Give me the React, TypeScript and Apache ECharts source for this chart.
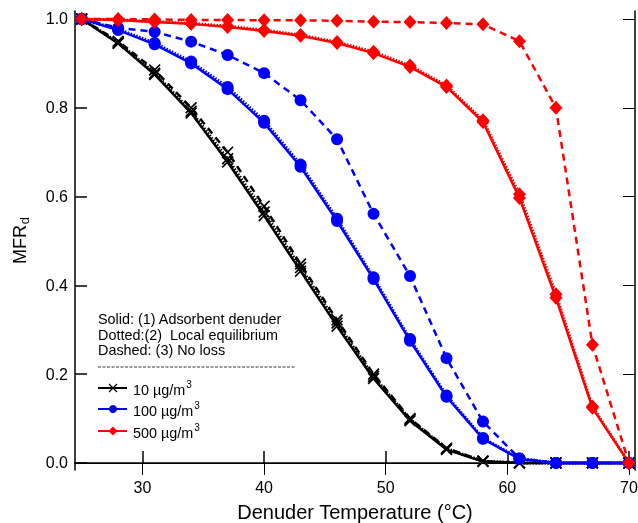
import React, { useEffect, useRef } from "react";
import * as echarts from "echarts";

const temps = [25, 28, 31, 34, 37, 40, 43, 46, 49, 52, 55, 58, 61, 64, 67, 70];

const black10Solid = [1, 0.945, 0.875, 0.788, 0.678, 0.557, 0.432, 0.308, 0.19, 0.095, 0.03, 0.003, 0, 0, 0, 0];
const black10Dotted = [1, 0.947, 0.878, 0.792, 0.685, 0.565, 0.44, 0.315, 0.195, 0.098, 0.032, 0.004, 0, 0, 0, 0];
const black10Dashed = [1, 0.95, 0.885, 0.8, 0.7, 0.578, 0.448, 0.322, 0.2, 0.1, 0.033, 0.004, 0, 0, 0, 0];

const blue100Solid = [1, 0.975, 0.943, 0.9, 0.842, 0.766, 0.667, 0.545, 0.414, 0.275, 0.149, 0.054, 0.009, 0, 0, 0];
const blue100Dotted = [1, 0.977, 0.946, 0.904, 0.847, 0.771, 0.672, 0.55, 0.418, 0.279, 0.152, 0.056, 0.01, 0, 0, 0];
const blue100Dashed = [1, 0.98, 0.971, 0.949, 0.919, 0.878, 0.817, 0.729, 0.561, 0.421, 0.236, 0.093, 0.01, 0, 0, 0];

const red500Solid = [1, 0.998, 0.993, 0.989, 0.982, 0.973, 0.962, 0.946, 0.923, 0.892, 0.847, 0.768, 0.597, 0.372, 0.124, 0];
const red500Dotted = [1, 0.998, 0.994, 0.99, 0.984, 0.975, 0.964, 0.948, 0.926, 0.895, 0.85, 0.772, 0.605, 0.38, 0.127, 0];
const red500Dashed = [1, 1, 0.999, 0.998, 0.998, 0.997, 0.997, 0.996, 0.994, 0.993, 0.991, 0.988, 0.95, 0.8, 0.266, 0];

const xTicks = [30, 40, 50, 60, 70];
const yTicks = [0, 0.2, 0.4, 0.6, 0.8, 1.0];

const legendNotes = ["Solid: (1) Adsorbent denuder", "Dotted:(2)  Local equilibrium", "Dashed: (3) No loss"];
const legendNames = ["10 µg/m", "100 µg/m", "500 µg/m"];

const BLACK = "#000000";
const BLUE = "#0000ff";
const RED = "#ff0000";
const FONT = "Liberation Sans, Arial, sans-serif";

const CROSS = "path://M0,1.2 L1.2,0 L6,4.8 L10.8,0 L12,1.2 L7.2,6 L12,10.8 L10.8,12 L6,7.2 L1.2,12 L0,10.8 L4.8,6 Z";

function pairs(vals: number[]) {
  return temps.map((t, i) => [t, vals[i]]);
}

function mk(name: string, vals: number[], color: string, kind: "solid" | "dotted" | "dashed", symbol: string, size: any) {
  let type: any = "solid";
  let width = 2.5;
  if (kind === "dotted") { type = [1.5, 1.5]; width = 3; }
  if (kind === "dashed") { type = [7, 5]; width = 2.5; }
  return {
    name,
    type: "line",
    data: pairs(vals),
    xAxisIndex: 0,
    yAxisIndex: 0,
    symbol,
    symbolSize: size,
    showSymbol: true,
    lineStyle: { color, width, type },
    itemStyle: { color, borderWidth: 0 },
    emphasis: { disabled: true },
    z: 2,
  };
}

export default function App() {
  const ref = useRef<HTMLDivElement>(null);
  useEffect(() => {
    if (!ref.current) return;
    const chart = echarts.init(ref.current, undefined, { renderer: "svg" });
    const axisLine = { show: true, lineStyle: { color: BLACK, width: 1.5 } };
    const legendRowsY = [388, 409, 431];
    const legendColors = [BLACK, BLUE, RED];
    const legendGraphics: any[] = [];
    legendNotes.forEach((t, i) => {
      legendGraphics.push({
        type: "text",
        x: 98,
        y: [319, 334.5, 350][i],
        style: { text: t, font: `14.4px ${FONT}`, fill: BLACK, verticalAlign: "middle" },
      });
    });
    legendGraphics.push({
      type: "line",
      shape: { x1: 98, y1: 367, x2: 295, y2: 367 },
      style: { stroke: "#333", lineWidth: 1, lineDash: [3, 1.5] },
    });
    legendRowsY.forEach((y, i) => {
      legendGraphics.push({
        type: "line",
        shape: { x1: 98, y1: y, x2: 127, y2: y },
        style: { stroke: legendColors[i], lineWidth: 2 },
      });
      if (i === 0) {
        legendGraphics.push({ type: "line", shape: { x1: 109, y1: y - 4, x2: 117, y2: y + 4 }, style: { stroke: BLACK, lineWidth: 1.2 } });
        legendGraphics.push({ type: "line", shape: { x1: 109, y1: y + 4, x2: 117, y2: y - 4 }, style: { stroke: BLACK, lineWidth: 1.2 } });
      } else if (i === 1) {
        legendGraphics.push({ type: "circle", shape: { cx: 113, cy: y, r: 4 }, style: { fill: BLUE } });
      } else {
        legendGraphics.push({ type: "polygon", shape: { points: [[113, y - 4.5], [117.5, y], [113, y + 4.5], [108.5, y]] }, style: { fill: RED } });
      }
      legendGraphics.push({
        type: "text",
        x: 133,
        y: y - 9,
        style: {
          text: `{n|${legendNames[i]}}{s|3}`,
          rich: {
            n: { font: `14.4px ${FONT}`, fill: BLACK, lineHeight: 18, verticalAlign: "bottom" },
            s: { font: `10px ${FONT}`, fill: BLACK, lineHeight: 18, verticalAlign: "top", padding: [0, 0, 0, 1] },
          },
        },
      });
    });

    chart.setOption({
      animation: false,
      grid: { left: 75, right: 3, top: 11, bottom: 53, containLabel: false, outerBoundsMode: "none" },
      xAxis: [
        {
          type: "value",
          min: 24.45,
          max: 70.5,
          position: "bottom",
          axisLine,
          splitLine: { show: false },
          axisTick: { show: true, inside: true, length: 12, lineStyle: { color: BLACK, width: 1.5 }, customValues: xTicks },
          axisLabel: { show: true, customValues: xTicks, color: BLACK, fontSize: 16, fontFamily: FONT, margin: 9 },
          name: "Denuder Temperature (°C)",
          nameLocation: "middle",
          nameGap: 32,
          nameTextStyle: { fontSize: 20, fontFamily: FONT, color: BLACK },
        },
        {
          type: "value",
          min: 24.45,
          max: 70.5,
          position: "top",
          axisLine: { show: true, lineStyle: { color: BLACK, width: 1 } },
          splitLine: { show: false },
          axisTick: { show: true, inside: true, length: 12, lineStyle: { color: BLACK, width: 1 }, customValues: xTicks },
          axisLabel: { show: false },
        },
      ],
      yAxis: [
        {
          type: "value",
          min: -0.016,
          max: 1.018,
          position: "left",
          axisLine,
          splitLine: { show: false },
          axisTick: { show: true, inside: true, length: 12, lineStyle: { color: BLACK, width: 1.5 }, customValues: yTicks },
          axisLabel: {
            show: true,
            customValues: yTicks,
            color: BLACK,
            fontSize: 16,
            fontFamily: FONT,
            margin: 7,
            formatter: (v: number) => v.toFixed(1),
          },
          name: "{a|MFR}{b|d}",
          nameLocation: "middle",
          nameRotate: 90,
          nameGap: 44,
          nameTextStyle: {
            rich: {
              a: { fontSize: 18, fontFamily: FONT, color: BLACK, lineHeight: 22, verticalAlign: "middle" },
              b: { fontSize: 13, fontFamily: FONT, color: BLACK, lineHeight: 22, verticalAlign: "bottom", padding: [8, 0, 0, 1] },
            },
          },
        },
        {
          type: "value",
          min: -0.016,
          max: 1.018,
          position: "right",
          axisLine: { show: true, lineStyle: { color: BLACK, width: 1.5 } },
          splitLine: { show: false },
          axisTick: { show: true, inside: true, length: 12, lineStyle: { color: BLACK, width: 1 }, customValues: yTicks },
          axisLabel: { show: false },
        },
      ],
      series: [
        mk("10 solid", black10Solid, BLACK, "solid", CROSS, 12),
        mk("10 dotted", black10Dotted, BLACK, "dotted", CROSS, 12),
        mk("10 dashed", black10Dashed, BLACK, "dashed", CROSS, 12),
        mk("100 solid", blue100Solid, BLUE, "solid", "circle", 12),
        mk("100 dotted", blue100Dotted, BLUE, "dotted", "circle", 12),
        mk("100 dashed", blue100Dashed, BLUE, "dashed", "circle", 12),
        mk("500 solid", red500Solid, RED, "solid", "diamond", [13, 14]),
        mk("500 dotted", red500Dotted, RED, "dotted", "diamond", [13, 14]),
        mk("500 dashed", red500Dashed, RED, "dashed", "diamond", [13, 14]),
      ],
      graphic: legendGraphics,
    });
    return () => chart.dispose();
  }, []);
  return <div ref={ref} style={{ position: "fixed", left: 0, top: 0, width: 638, height: 523 }} />;
}
